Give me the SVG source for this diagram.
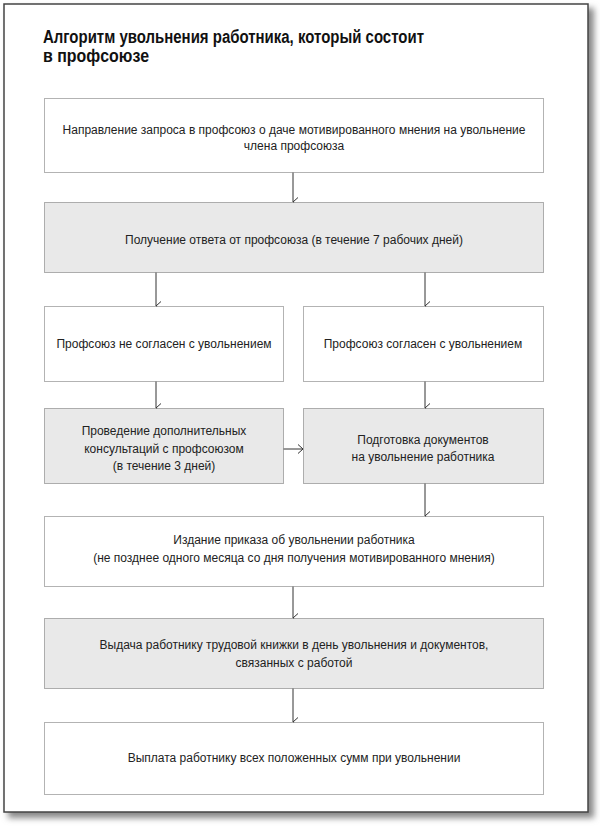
<svg xmlns="http://www.w3.org/2000/svg" width="600" height="829" viewBox="0 0 600 829">
<defs>
<filter id="blur" x="-5%" y="-5%" width="110%" height="110%"><feGaussianBlur stdDeviation="3"/></filter>
<marker id="arr" markerWidth="10" markerHeight="10" refX="5" refY="8" orient="auto-start-reverse" markerUnits="userSpaceOnUse" viewBox="0 0 10 10">
<polyline points="0.5,3 5,8 9.5,3" fill="none" stroke="#333" stroke-width="1"/>
</marker>
<marker id="arrh" markerWidth="10" markerHeight="10" refX="8" refY="5" orient="0" markerUnits="userSpaceOnUse" viewBox="0 0 10 10">
<polyline points="3,0.5 8,5 3,9.5" fill="none" stroke="#333" stroke-width="1"/>
</marker>
</defs>
<style>
.box{fill:#fff;stroke:#666;stroke-width:1;stroke-dasharray:1 1}
.gray{fill:#e9e9e9}
.t{font-family:"Liberation Sans",Arial,sans-serif;font-size:12px;fill:#222;text-anchor:middle}
.title{font-family:"Liberation Sans",Arial,sans-serif;font-weight:bold;font-size:18px;fill:#111}
.c{stroke:#333;stroke-width:1;fill:none}
</style>
<rect width="600" height="829" fill="#fff"/>
<rect x="8" y="8" width="586" height="810" fill="#888" filter="url(#blur)"/>
<rect x="4" y="4" width="584" height="808" fill="#fff" stroke="#444" stroke-width="1.5"/>
<g id="title">
<text class="title" x="43" y="43" textLength="381" lengthAdjust="spacingAndGlyphs">Алгоритм увольнения работника, который состоит</text>
<text class="title" x="43" y="62" textLength="106" lengthAdjust="spacingAndGlyphs">в профсоюзе</text>
</g>
<g id="connectors">
<line class="c" x1="293" y1="172" x2="293" y2="202" marker-end="url(#arr)"/>
<line class="c" x1="156" y1="272" x2="156" y2="306" marker-end="url(#arr)"/>
<line class="c" x1="425" y1="272" x2="425" y2="306" marker-end="url(#arr)"/>
<line class="c" x1="156" y1="381" x2="156" y2="408" marker-end="url(#arr)"/>
<line class="c" x1="425" y1="381" x2="425" y2="408" marker-end="url(#arr)"/>
<line class="c" x1="283" y1="449" x2="303" y2="449" marker-end="url(#arrh)"/>
<line class="c" x1="425" y1="483" x2="425" y2="516" marker-end="url(#arr)"/>
<line class="c" x1="293" y1="586" x2="293" y2="618" marker-end="url(#arr)"/>
<line class="c" x1="293" y1="688" x2="293" y2="722" marker-end="url(#arr)"/>
</g>
<g id="n1">
<rect class="box" x="44.5" y="98.5" width="499" height="74"/>
<text class="t" x="294" y="134">Направление запроса в профсоюз о даче мотивированного мнения на увольнение</text>
<text class="t" x="294" y="150">члена профсоюза</text>
</g>
<g id="n2">
<rect class="box gray" x="44.5" y="202.5" width="499" height="70"/>
<text class="t" x="294" y="244">Получение ответа от профсоюза (в течение 7 рабочих дней)</text>
</g>
<g id="n3">
<rect class="box" x="44.5" y="306.5" width="239" height="75"/>
<text class="t" x="164" y="348">Профсоюз не согласен с увольнением</text>
</g>
<g id="n4">
<rect class="box" x="303.5" y="306.5" width="240" height="75"/>
<text class="t" x="423" y="348">Профсоюз согласен с увольнением</text>
</g>
<g id="n5">
<rect class="box gray" x="44.5" y="408.5" width="239" height="75"/>
<text class="t" x="164" y="435">Проведение дополнительных</text>
<text class="t" x="164" y="453">консультаций с профсоюзом</text>
<text class="t" x="164" y="470">(в течение 3 дней)</text>
</g>
<g id="n6">
<rect class="box gray" x="303.5" y="408.5" width="240" height="75"/>
<text class="t" x="423" y="444">Подготовка документов</text>
<text class="t" x="423" y="461">на увольнение работника</text>
</g>
<g id="n7">
<rect class="box" x="44.5" y="516.5" width="499" height="70"/>
<text class="t" x="294" y="544">Издание приказа об увольнении работника</text>
<text class="t" x="294" y="562">(не позднее одного месяца со дня получения мотивированного мнения)</text>
</g>
<g id="n8">
<rect class="box gray" x="44.5" y="618.5" width="499" height="70"/>
<text class="t" x="294" y="649">Выдача работнику трудовой книжки в день увольнения и документов,</text>
<text class="t" x="294" y="667">связанных с работой</text>
</g>
<g id="n9">
<rect class="box" x="44.5" y="722.5" width="499" height="72"/>
<text class="t" x="294" y="762">Выплата работнику всех положенных сумм при увольнении</text>
</g>
</svg>
